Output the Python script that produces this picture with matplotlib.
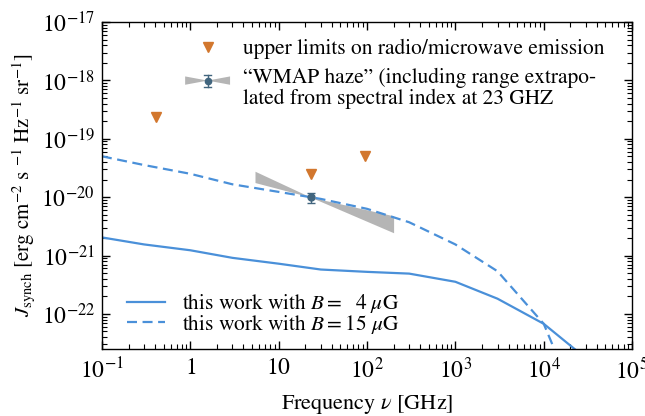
import numpy as np
import matplotlib
matplotlib.use("Agg")
import matplotlib.pyplot as plt
from matplotlib.legend_handler import HandlerBase
from matplotlib.patches import Polygon
from matplotlib.lines import Line2D
from matplotlib.ticker import FixedLocator, FixedFormatter, LogLocator, NullFormatter

plt.rcParams['font.family'] = ['STIXGeneral', 'DejaVu Serif']
plt.rcParams['mathtext.fontset'] = 'stix'
plt.rcParams['font.size'] = 15

# ---------------- data ----------------
freq_model = [0.1, 0.3, 1, 3, 10, 30, 100, 300, 1000, 3000, 1e4, 3e4]
log_J_4uG = [-20.69, -20.81, -20.91, -21.04, -21.14, -21.24, -21.28, -21.31,
             -21.45, -21.74, -22.17, -22.76]
log_J_15uG = [-19.30, -19.45, -19.60, -19.78, -19.91, -20.03, -20.20, -20.43,
              -20.81, -21.27, -22.17, -23.90]

freq_limits = [0.408, 23, 94]
J_limits = [2.4e-19, 2.5e-20, 5.0e-20]

haze_freq = [23]
haze_J = [1.0e-20]
haze_err = [0.2e-20]

band_freq = [5.4, 23, 200]
band_upper = [10**-19.556, 1.0e-20, 10**-20.32]
band_lower = [10**-19.75, 1.0e-20, 10**-20.61]

xtick_vals = [1e-1, 1, 10, 1e2, 1e3, 1e4, 1e5]
xtick_labels = [r'$10^{-1}$', r'$1$', r'$10$', r'$10^{2}$', r'$10^{3}$', r'$10^{4}$', r'$10^{5}$']
ytick_vals = [1e-22, 1e-21, 1e-20, 1e-19, 1e-18, 1e-17]
ytick_labels = [r'$10^{-22}$', r'$10^{-21}$', r'$10^{-20}$', r'$10^{-19}$', r'$10^{-18}$', r'$10^{-17}$']

blue = '#4a90d9'
orange = '#d2772e'
slate = '#41657e'
gray = '#b5b5b5'

fig = plt.figure(figsize=(6.45, 4.16), dpi=100)
ax = fig.add_axes([0.158, 0.161, 0.822, 0.786])

l1, = ax.plot(freq_model, 10**np.array(log_J_4uG), color=blue, lw=1.6,
              label=r'this work with $B =\ \ 4\ \mu$G')
l2, = ax.plot(freq_model, 10**np.array(log_J_15uG), color=blue, lw=1.6,
              ls=(0, (4.5, 2.5)), label=r'this work with $B = 15\ \mu$G')

band = ax.fill_between(band_freq, band_lower, band_upper, color=gray, lw=0, zorder=1)
haze = ax.errorbar(haze_freq, haze_J, yerr=haze_err, fmt='o', color=slate,
                   ms=5, capsize=2.8, elinewidth=1, capthick=1, zorder=4)
lim, = ax.plot(freq_limits, J_limits, 'v', color=orange, ms=6.5, ls='none', zorder=4)

ax.set_xscale('log')
ax.set_yscale('log')
ax.set_xlim(0.1, 1e5)
ax.set_ylim(2.5e-23, 1e-17)

ax.xaxis.set_major_locator(FixedLocator(xtick_vals))
ax.xaxis.set_major_formatter(FixedFormatter(xtick_labels))
ax.yaxis.set_major_locator(FixedLocator(ytick_vals))
ax.yaxis.set_major_formatter(FixedFormatter(ytick_labels))
ax.xaxis.set_minor_locator(LogLocator(base=10, subs=np.arange(2, 10), numticks=20))
ax.yaxis.set_minor_locator(LogLocator(base=10, subs=np.arange(2, 10), numticks=20))
ax.xaxis.set_minor_formatter(NullFormatter())
ax.yaxis.set_minor_formatter(NullFormatter())
ax.tick_params(which='both', direction='in', top=True, right=True, labelsize=17)
ax.tick_params(which='major', length=6, width=1)
ax.tick_params(which='minor', length=3.5, width=0.8)
ax.tick_params(axis='x', pad=6)
ax.tick_params(axis='y', pad=5)
for s in ax.spines.values():
    s.set_linewidth(1)

ax.set_xlabel(r'Frequency $\nu$ [GHz]', fontsize=16, labelpad=7)
ax.set_ylabel(r'$J_{\rm synch}$ [erg cm$^{-2}$ s $^{-1}$ Hz$^{-1}$ sr$^{-1}$]', fontsize=15,
              labelpad=3)


class HazeHandler(HandlerBase):
    def create_artists(self, legend, orig_handle, xdescent, ydescent, width, height, fontsize, trans):
        x0 = -xdescent
        yc = -ydescent + height / 2 + 5.5
        a = 3.0
        xm = x0 + width / 2
        left = Polygon([(x0, yc + a), (xm, yc), (x0, yc - a)], closed=True,
                       facecolor=gray, edgecolor='none', transform=trans)
        right = Polygon([(x0 + width, yc + a), (xm, yc), (x0 + width, yc - a)], closed=True,
                        facecolor=gray, edgecolor='none', transform=trans)
        e = 4.3
        c = 2.5
        v = Line2D([xm, xm], [yc - e, yc + e], color=slate, lw=1, transform=trans)
        t = Line2D([xm - c, xm + c], [yc + e, yc + e], color=slate, lw=1, transform=trans)
        b = Line2D([xm - c, xm + c], [yc - e, yc - e], color=slate, lw=1, transform=trans)
        m = Line2D([xm], [yc], marker='o', ms=4.5, color=slate, transform=trans)
        return [left, right, v, t, b, m]


haze_proxy = object()
leg1 = ax.legend([lim, haze_proxy],
                 ['upper limits on radio/microwave emission',
                  '\u201cWMAP haze\u201d (including range extrapo-\nlated from spectral index at 23 GHZ'],
                 handler_map={haze_proxy: HazeHandler()},
                 loc='upper left', bbox_to_anchor=(0.157, 0.948), frameon=False,
                 borderpad=0, borderaxespad=0, handlelength=2.1, handletextpad=0.6,
                 labelspacing=0.39, fontsize=15.4)
for t in leg1.get_texts():
    t.set_linespacing(1.05)
ax.add_artist(leg1)

ax.legend([l1, l2], [l1.get_label(), l2.get_label()], loc='lower left',
          bbox_to_anchor=(0.047, 0.04), frameon=False, borderpad=0, borderaxespad=0,
          handlelength=1.78, handletextpad=0.8, labelspacing=-0.1, fontsize=15.4)

fig.savefig('out.png', dpi=100)
